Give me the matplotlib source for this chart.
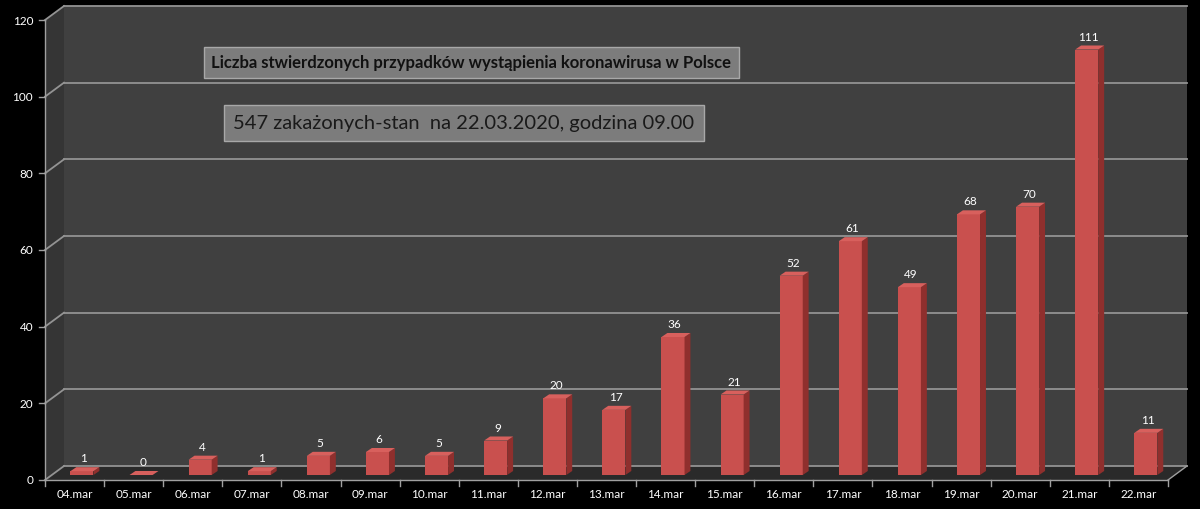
import matplotlib
matplotlib.use("Agg")
import matplotlib.pyplot as plt
from matplotlib.patches import Polygon

categories = ["04.mar", "05.mar", "06.mar", "07.mar", "08.mar", "09.mar", "10.mar",
              "11.mar", "12.mar", "13.mar", "14.mar", "15.mar", "16.mar", "17.mar",
              "18.mar", "19.mar", "20.mar", "21.mar", "22.mar"]
values = [1, 0, 4, 1, 5, 6, 5, 9, 20, 17, 36, 21, 52, 61, 49, 68, 70, 111, 11]
yticks = [0, 20, 40, 60, 80, 100, 120]
title1 = "Liczba stwierdzonych przypadków wystąpienia koronawirusa w Polsce"
title2 = "547 zakażonych-stan  na 22.03.2020, godzina 09.00"

plt.rcParams['font.family'] = ['Lato', 'DejaVu Sans']

fig = plt.figure(figsize=(12, 5.1), dpi=100, facecolor="black")
ax = fig.add_axes([45/1200, 1-481/510, 1123/1200, 460/510])
ax.set_facecolor("none")
n = len(categories)
ymax = 120
ax.set_xlim(0, n)
ax.set_ylim(0, ymax)
for s in ax.spines.values():
    s.set_visible(False)
ax.set_xticks([])
ax.set_yticks([])

# depth offsets in data units
ddx = 19/59.1
ddy = 14/3.83

# walls
back = Polygon([(ddx, ddy), (n+ddx, ddy), (n+ddx, ymax+ddy), (ddx, ymax+ddy)],
               closed=True, facecolor="#404040", edgecolor="none", clip_on=False, zorder=0)
side = Polygon([(0, 0), (ddx, ddy), (ddx, ymax+ddy), (0, ymax)],
               closed=True, facecolor="#353535", edgecolor="none", clip_on=False, zorder=0)
floor = Polygon([(0, 0), (n, 0), (n+ddx, ddy), (ddx, ddy)],
                closed=True, facecolor="#2a2a2a", edgecolor="none", clip_on=False, zorder=0.5)
for p in (back, side, floor):
    ax.add_patch(p)

# gridlines
for v in yticks:
    ax.plot([ddx, n+ddx], [v+ddy, v+ddy], color="#939393", lw=1.3, clip_on=False, zorder=1)
    ax.plot([0, ddx], [v, v+ddy], color="#939393", lw=1.3, clip_on=False, zorder=1)
    ax.plot([-0.1, 0], [v, v], color="#a0a0a0", lw=1, clip_on=False, zorder=1)
    ax.text(-0.2, v, str(v), color="white", fontsize=8.5, ha="right", va="center")
ax.plot([0, 0], [0, ymax], color="#a0a0a0", lw=1, clip_on=False, zorder=1)
ax.plot([0, n], [0, 0], color="#a0a0a0", lw=1, clip_on=False, zorder=1)
ax.plot([n, n+ddx], [0, ddy], color="#a0a0a0", lw=1, clip_on=False, zorder=1)
for i in range(n+1):
    ax.plot([i, i], [0, -1.5], color="#a0a0a0", lw=1, clip_on=False, zorder=1)

# category labels
for i, c in enumerate(categories):
    ax.text(i+0.5, -3.4, c, color="white", fontsize=8.5, ha="center", va="center")

# bars
x0, x1 = 0.43, 0.82
base = 1.3
bdx, bdy = 0.1, 1.05
for i, v in enumerate(values):
    l, r = i+x0, i+x1
    b, t = base, base+v
    ax.add_patch(Polygon([(l, b), (r, b), (r, t), (l, t)], closed=True,
                         facecolor="#c9504e", edgecolor="none", zorder=3, clip_on=False))
    ax.add_patch(Polygon([(r, b), (r+bdx, b+bdy), (r+bdx, t+bdy), (r, t)], closed=True,
                         facecolor="#8f2f2d", edgecolor="none", zorder=3, clip_on=False))
    ax.add_patch(Polygon([(l, t), (r, t), (r+bdx, t+bdy), (l+bdx, t+bdy)], closed=True,
                         facecolor="#d8605d", edgecolor="none", zorder=3, clip_on=False))
    ax.text((l+r)/2+0.03, t+bdy+1.0, str(v), color="white", fontsize=8.5,
            ha="center", va="bottom", zorder=4)

# title boxes
fig.text(471/1200, 1-63/510, title1, color="#111111", fontsize=12, fontweight="bold",
         ha="center", va="center",
         bbox=dict(boxstyle="square,pad=0.45", facecolor="#7c7c7c", edgecolor="#a8a8a8", lw=1))
fig.text(464/1200, 1-124/510, title2, color="#1a1a1a", fontsize=14.5,
         ha="center", va="center",
         bbox=dict(boxstyle="square,pad=0.45", facecolor="#7c7c7c", edgecolor="#a8a8a8", lw=1))

fig.savefig("out.png", dpi=100, facecolor="black")
